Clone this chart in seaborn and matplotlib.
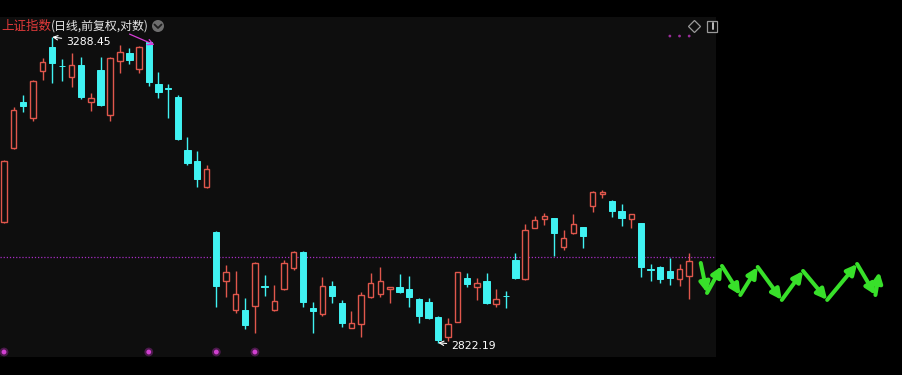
import numpy as np
import pandas as pd
import seaborn as sns
import matplotlib
matplotlib.use("Agg")
import matplotlib.pyplot as plt
from matplotlib.patches import FancyArrowPatch, Ellipse, Rectangle
from matplotlib.lines import Line2D

# ---------------- data (prices) ----------------
opens = [2997.9, 3110.9, 3183.3, 3157.9, 3233.0, 3272.1, 3241.9, 3223.3, 3242.7, 3183.3,
         3234.6, 3162.7, 3249.2, 3262.3, 3236.3, 3280.2, 3212.1, 3204.9, 3191.3, 3107.8,
         3090.8, 3050.8, 2983.0, 2910.8, 2868.9, 2868.9, 2874.6, 2902.8, 2868.9, 2899.2,
         2929.7, 2953.3, 2871.7, 2863.1, 2903.5, 2878.9, 2843.2, 2848.9, 2887.6, 2891.9,
         2899.2, 2902.1, 2899.2, 2884.7, 2880.4, 2858.8, 2830.4, 2851.7, 2915.1, 2902.1,
         2910.8, 2877.5, 2889.7, 2941.5, 2913.7, 2988.9, 3002.4, 3003.9, 2960.7, 2981.5,
         2990.4, 3022.0, 3040.2, 3029.6, 3014.5, 3002.4, 2996.4, 2927.6, 2931.2, 2925.4,
         2913.7, 2918.1]
highs = [3092.3, 3175.4, 3194.5, 3218.5, 3254.1, 3288.45, 3252.5, 3262.3, 3255.7, 3197.7,
         3255.7, 3255.7, 3275.3, 3270.4, 3273.7, 3280.8, 3231.4, 3212.1, 3194.5, 3128.1,
         3106.2, 3084.6, 2984.4, 2934.1, 2925.4, 2886.1, 2937.8, 2919.5, 2905.0, 2941.5,
         2954.0, 2954.8, 2880.4, 2916.6, 2910.8, 2883.3, 2867.5, 2894.8, 2922.4, 2931.2,
         2902.6, 2921.0, 2918.1, 2886.1, 2886.1, 2860.3, 2857.4, 2924.6, 2922.4, 2915.1,
         2922.4, 2899.2, 2896.2, 2951.8, 2994.9, 3006.9, 3011.4, 3004.6, 2985.9, 3009.9,
         2991.1, 3044.0, 3046.3, 3030.3, 3025.0, 3010.6, 2997.1, 2935.6, 2932.7, 2944.4,
         2935.6, 2951.8]
lows = [2996.4, 3109.4, 3167.4, 3153.2, 3218.5, 3213.7, 3216.9, 3207.3, 3188.1, 3169.0,
        3176.9, 3153.2, 3229.8, 3244.4, 3229.8, 3208.9, 3189.7, 3157.9, 3123.4, 3084.6,
        3050.8, 3049.3, 2873.2, 2887.6, 2864.6, 2841.7, 2836.1, 2889.0, 2868.0, 2898.0,
        2926.8, 2873.2, 2836.1, 2860.3, 2878.9, 2844.6, 2842.5, 2830.4, 2886.1, 2887.6,
        2878.9, 2893.4, 2873.2, 2850.3, 2856.0, 2822.19, 2824.7, 2851.0, 2902.1, 2883.3,
        2877.5, 2873.2, 2871.7, 2913.7, 2912.2, 2988.2, 2993.4, 2947.4, 2956.3, 2980.0,
        2959.2, 3013.0, 3034.1, 3005.4, 2991.9, 2988.9, 2916.6, 2910.8, 2907.9, 2905.0,
        2903.5, 2884.7]
closes = [3090.8, 3170.6, 3176.9, 3216.9, 3247.6, 3246.0, 3240.3, 3242.7, 3191.3, 3189.7,
          3178.5, 3254.1, 3263.9, 3250.9, 3272.1, 3215.3, 3199.3, 3203.3, 3125.0, 3087.7,
          3063.1, 3078.4, 2903.5, 2923.9, 2891.9, 2847.4, 2937.1, 2901.3, 2881.8, 2937.1,
          2953.3, 2880.4, 2867.5, 2903.5, 2889.0, 2850.3, 2850.3, 2890.4, 2907.9, 2910.8,
          2902.1, 2894.8, 2887.6, 2860.3, 2857.4, 2826.2, 2848.9, 2923.9, 2906.4, 2907.9,
          2878.9, 2884.7, 2888.3, 2915.1, 2985.9, 3000.9, 3006.9, 2981.5, 2974.0, 2994.9,
          2977.0, 3043.2, 3042.5, 3014.5, 3003.9, 3009.9, 2931.2, 2926.1, 2913.7, 2915.1,
          2928.3, 2940.0]
ref_level = 2946.3                 # dotted horizontal reference line
signal_bars = [0, 15, 22, 26]      # magenta signal dots at the bottom
top_dots = [69, 70, 71]            # small magenta dots at top right
title_red = "上证指数"
title_rest = "(日线,前复权,对数)"
# hand drawn green zig-zag (bar index, price)
zig_x = [72.2, 72.85, 74.4, 76.3, 78.1, 80.6, 82.8, 85.3, 88.4, 90.3, 90.7]
zig_y = [2937.1, 2893.4, 2932.7, 2890.4, 2931.2, 2883.3, 2925.4, 2883.3, 2935.6, 2890.4, 2923.9]

df = pd.DataFrame({"i": np.arange(len(opens)), "open": opens, "high": highs,
                   "low": lows, "close": closes})
df["up"] = df["close"] >= df["open"]

# ---------------- style ----------------
PANEL = "#0e0e0e"
RED = "#e0574c"
CYAN = "#40f2f2"
sns.set_theme(style="dark", rc={"axes.facecolor": PANEL, "figure.facecolor": "black",
                                "axes.grid": False})
plt.rcParams["font.family"] = ["Noto Sans CJK SC", "DejaVu Sans"]

W, H = 903, 375
fig = plt.figure(figsize=(W / 100, H / 100), dpi=100)
fig.patch.set_facecolor("black")
ax = fig.add_axes([0, 18 / H, 716 / W, 340 / H])
ax.set_facecolor(PANEL)
ax.set_yscale("log")
ax.set_xlim(-0.4145, 73.78)
ax.set_ylim(2802.2, 3321.5)
ax.tick_params(which="both", left=False, bottom=False, labelleft=False, labelbottom=False)
ax.yaxis.set_major_locator(matplotlib.ticker.NullLocator())
ax.yaxis.set_minor_locator(matplotlib.ticker.NullLocator())
ax.set_xticks([])
for s in ax.spines.values():
    s.set_visible(False)

# reference line
ax.axhline(ref_level, color="#a62cc4", lw=0.9, ls=(0, (1, 1.5)), zorder=1)

up = df[df["up"]]
dn = df[~df["up"]]
# wicks
ax.vlines(dn["i"], dn["low"], dn["high"], color=CYAN, lw=1.0, zorder=2)
ax.vlines(up["i"], up["close"], up["high"], color=RED, lw=1.0, zorder=2)
ax.vlines(up["i"], up["low"], up["open"], color=RED, lw=1.0, zorder=2)
# bodies
ax.bar(up["i"], up["close"] - up["open"], bottom=up["open"], width=0.56,
       facecolor=PANEL, edgecolor=RED, linewidth=1.0, zorder=3)
ax.bar(dn["i"], dn["open"] - dn["close"], bottom=dn["close"], width=0.66,
       facecolor=CYAN, edgecolor=CYAN, linewidth=0.7, zorder=3)

# max / min labels
imax = int(np.argmax(highs))
imin = int(np.argmin(lows))
ax.annotate(f"{highs[imax]:.2f}", xy=(imax, highs[imax]), xytext=(14, -5),
            textcoords="offset pixels", color="white", fontsize=7.8, family="DejaVu Sans",
            ha="left", va="center",
            arrowprops=dict(arrowstyle="->", color="white", lw=0.8, shrinkA=1, shrinkB=0))
ax.annotate(f"{lows[imin]:.2f}", xy=(imin, lows[imin]), xytext=(13, -3),
            textcoords="offset pixels", color="white", fontsize=7.8, family="DejaVu Sans",
            ha="left", va="center", annotation_clip=False,
            arrowprops=dict(arrowstyle="->", color="white", lw=0.8, shrinkA=1, shrinkB=0))

# signal dots
lo, hi = ax.get_ylim()
sig_y = 10 ** (np.log10(lo) + 0.0147 * (np.log10(hi) - np.log10(lo)))
sns.scatterplot(x=signal_bars, y=[sig_y] * len(signal_bars), ax=ax, s=40,
                color="#c030c0", alpha=0.35, edgecolor="none", zorder=4, legend=False)
sns.scatterplot(x=signal_bars, y=[sig_y] * len(signal_bars), ax=ax, s=12,
                color="#d040d0", edgecolor="none", zorder=5, legend=False)
top_y = 10 ** (np.log10(lo) + 0.944 * (np.log10(hi) - np.log10(lo)))
sns.scatterplot(x=top_dots, y=[top_y] * len(top_dots), ax=ax, s=4,
                color="#9a2e9a", edgecolor="none", zorder=5, legend=False)
ax.set_xlim(-0.4145, 73.78)
ax.set_ylim(lo, hi)
ax.set_xlabel("")
ax.set_ylabel("")

# green zig-zag arrows
for k in range(len(zig_x) - 1):
    a = FancyArrowPatch((zig_x[k], zig_y[k]), (zig_x[k + 1], zig_y[k + 1]),
                        arrowstyle="-|>", mutation_scale=15, lw=2.9,
                        color="#38e02a", clip_on=False, zorder=6,
                        shrinkA=0, shrinkB=0)
    ax.add_patch(a)

# ---------------- header ----------------
t1 = fig.text(1 / W, 1 - 26 / H, title_red, color="#e23a3a", fontsize=9,
              ha="left", va="center")
ax.annotate(title_rest, xy=(1.0, 0.5), xycoords=t1, xytext=(0, 0),
            textcoords="offset pixels", color="#e6e6e6", fontsize=8.6,
            ha="left", va="center", annotation_clip=False)
# chevron circle
fig.add_artist(Ellipse((158 / W, 1 - 26 / H), 12 / W, 12 / H,
                       transform=fig.transFigure, facecolor="#6e6e6e", edgecolor="none"))
fig.add_artist(Line2D([154.5 / W, 158 / W, 161.5 / W],
                      [1 - 24.5 / H, 1 - 28 / H, 1 - 24.5 / H],
                      transform=fig.transFigure, color="#1e1e1e", lw=1.3))
# magenta signal arrow near the top
fig.add_artist(FancyArrowPatch((127 / W, 1 - 33 / H), (157 / W, 1 - 46 / H),
                               transform=fig.transFigure, arrowstyle="->",
                               mutation_scale=10, lw=0.9, color="#d63cd6"))
# top-right icons
fig.add_artist(Line2D([694 / W], [1 - 26 / H], marker="D", ms=6.5, mfc="none",
                      mec="#9a9a9a", mew=0.9, transform=fig.transFigure))
fig.add_artist(Rectangle((707 / W, 1 - 31.5 / H), 10 / W, 11 / H,
                         transform=fig.transFigure, facecolor="none",
                         edgecolor="#9a9a9a", lw=0.9))
fig.add_artist(Line2D([713.5 / W, 713.5 / W], [1 - 29 / H, 1 - 23 / H],
                      transform=fig.transFigure, color="#bdbdbd", lw=1.4))

fig.savefig("out.png", dpi=100, facecolor="black")
